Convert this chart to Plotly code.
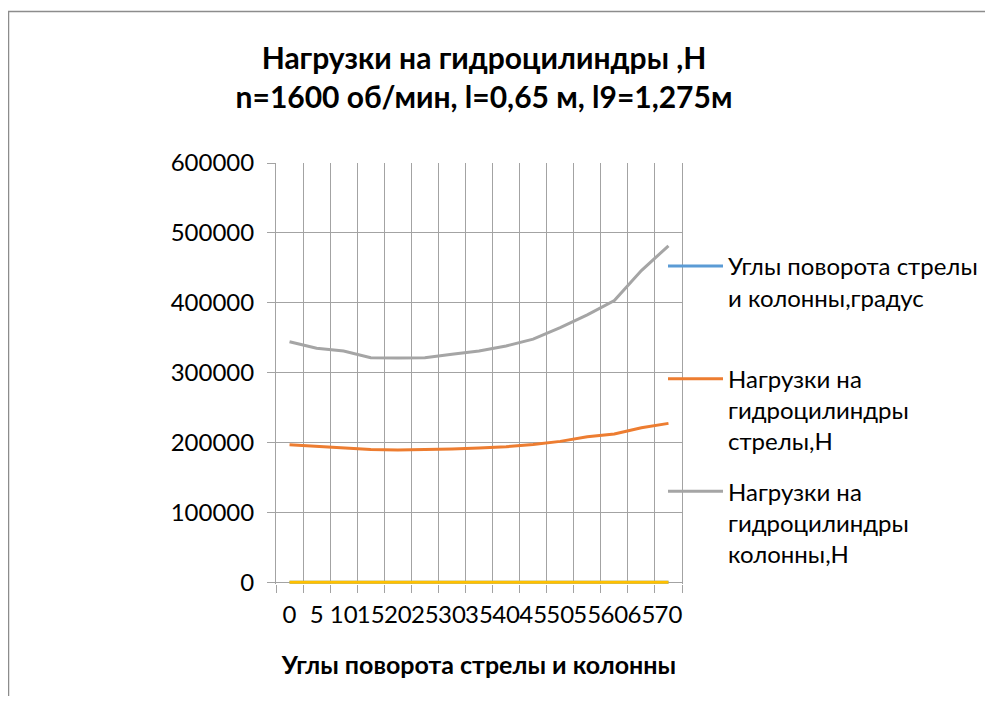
import plotly.graph_objects as go

angles = [0, 5, 10, 15, 20, 25, 30, 35, 40, 45, 50, 55, 60, 65, 70]
categories = [str(a) for a in angles]
boom_load = [196800, 194400, 191600, 190100, 189100, 189600, 190600, 192000,
             193900, 197300, 201600, 208200, 212100, 221100, 227400]
column_load = [344300, 334900, 331000, 321400, 321000, 321400, 326300, 331000,
               338200, 348000, 364400, 382600, 403100, 446100, 481500]
extra_series = [0, 0, 0, 0, 0, 0, 0, 0, 0, 0, 0, 0, 0, 0, 0]
y_ticks = [0, 100000, 200000, 300000, 400000, 500000, 600000]

FONT = "Lato"
GRID = "#a3a3a3"

W, H = 977, 688
ML, MR, MT, MB = 268, 303, 155, 112
PW, PH = W - ML - MR, H - MT - MB


def px_x(x):
    return (x - ML) / PW


def px_y(y):
    return (H - MB - y) / PH


fig = go.Figure()
fig.add_trace(go.Scatter(x=categories, y=angles, mode="lines", legendgroup="a",
                         name="Углы поворота стрелы<br>и колонны,градус<br>\u00a0",
                         line=dict(color="#5B9BD5", width=3)))
fig.add_trace(go.Scatter(x=categories, y=boom_load, mode="lines", legendgroup="b",
                         name="Нагрузки на<br>гидроцилиндры<br>стрелы,Н",
                         line=dict(color="#ED7D31", width=3)))
fig.add_trace(go.Scatter(x=categories, y=column_load, mode="lines", legendgroup="c",
                         name="Нагрузки на<br>гидроцилиндры<br>колонны,Н",
                         line=dict(color="#A5A5A5", width=3)))
fig.add_trace(go.Scatter(x=categories, y=extra_series, mode="lines",
                         name="", showlegend=False,
                         line=dict(color="#FFC000", width=3)))

fig.update_layout(
    width=W, height=H,
    margin=dict(l=ML, r=MR, t=MT, b=MB, autoexpand=False),
    paper_bgcolor="white", plot_bgcolor="white",
    font=dict(family=FONT, size=24, color="#000000"),
    title=dict(text="<b>Нагрузки на гидроцилиндры ,Н<br>n=1600 об/мин, l=0,65 м, l9=1,275м</b>",
               x=476 / W, xref="container", xanchor="center",
               y=1 - 61 / H, yref="container", yanchor="top",
               font=dict(family=FONT, size=30, color="#000000")),
    showlegend=True,
    legend=dict(x=px_x(655), xref="paper", xanchor="left",
                y=px_y(236), yref="paper", yanchor="top",
                valign="top", itemwidth=55, tracegroupgap=16,
                font=dict(family=FONT, size=24, color="#000000"),
                bgcolor="rgba(0,0,0,0)"),
    shapes=[dict(type="rect", xref="paper", yref="paper",
                 x0=px_x(0.5), x1=px_x(W + 20),
                 y0=px_y(H + 20), y1=px_y(3.5),
                 line=dict(color="#8c8c8c", width=1.5), layer="below")],
)

fig.update_xaxes(
    type="category", tickson="boundaries", tickmode="linear", tick0=0, dtick=1,
    tickangle=0, showgrid=True, gridcolor=GRID, gridwidth=1,
    showline=False,
    ticks="outside", ticklen=8, tickcolor=GRID, ticklabelstandoff=14,
    tickfont=dict(family=FONT, size=24),
    title=dict(text="<b>Углы поворота стрелы и колонны</b>", standoff=29,
               font=dict(family=FONT, size=25)),
    range=[-0.5, 14.5], zeroline=False,
)
fig.update_yaxes(
    range=[-2500, 600000], tickmode="array", tickvals=y_ticks,
    ticktext=[str(v) for v in y_ticks],
    showgrid=True, gridcolor=GRID, gridwidth=1,
    showline=True, linecolor=GRID, linewidth=1, mirror=True,
    ticks="outside", ticklen=8, tickcolor=GRID, ticklabelstandoff=8,
    tickfont=dict(family=FONT, size=24), zeroline=False,
)

fig.write_html("out.html")
